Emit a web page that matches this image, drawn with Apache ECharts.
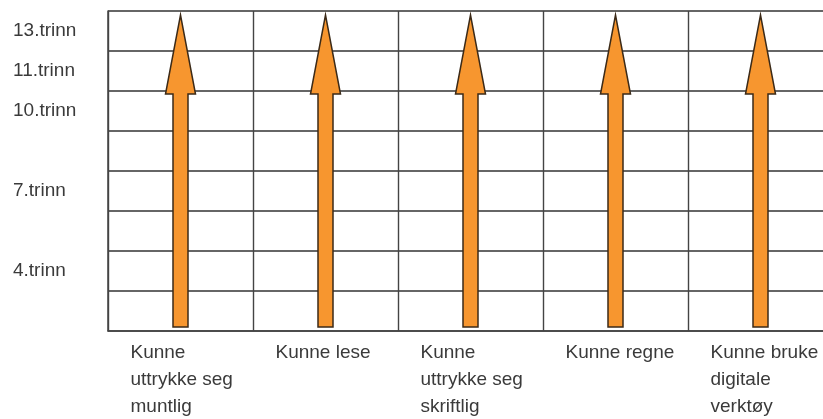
<!DOCTYPE html>
<html>
<head>
<meta charset="utf-8">
<script src="https://cdn.jsdelivr.net/npm/echarts@6/dist/echarts.min.js"></script>
<style>html,body{margin:0;padding:0;background:#fff}#c{width:823px;height:419px}</style>
</head>
<body>
<div id="c"></div>
<script>
const skills = ['Kunne\nuttrykke seg\nmuntlig', 'Kunne lese', 'Kunne\nuttrykke seg\nskriftlig', 'Kunne regne', 'Kunne bruke\ndigitale\nverktøy'];
const levels = ['', '4.trinn', '', '7.trinn', '', '10.trinn', '11.trinn', '13.trinn'];
const arrowFrom = [0.1, 0.1, 0.1, 0.1, 0.1];
const arrowTo = [7.9, 7.9, 7.9, 7.9, 7.9];

const chart = echarts.init(document.getElementById('c'), null, {renderer: 'canvas'});
const lineColor = '#444';
const textColor = '#3a3a3a';
const font = 'Liberation Sans, Arial, sans-serif';

chart.setOption({
  animation: false,
  grid: {left: 108, top: 11, width: 725, height: 320, outerBoundsMode: 'none', containLabel: false},
  xAxis: {
    type: 'category',
    data: skills,
    boundaryGap: true,
    axisLine: {show: true, lineStyle: {color: lineColor, width: 1.5}},
    axisTick: {show: false},
    splitLine: {show: true, interval: 0, lineStyle: {color: lineColor, width: 1.4}},
    axisLabel: {
      interval: 0,
      margin: 8,
      align: 'center',
      verticalAlign: 'top',
      formatter: v => v.split('\n').map(l => '{a|' + l + '}').join('\n'),
      rich: {a: {width: 100, align: 'left', fontSize: 19, lineHeight: 27, color: textColor, fontFamily: font}}
    }
  },
  yAxis: [{
    type: 'category',
    data: levels,
    boundaryGap: true,
    axisLine: {show: true, lineStyle: {color: lineColor, width: 1.5}},
    axisTick: {show: false},
    splitLine: {show: true, interval: 0, lineStyle: {color: '#666', width: 1.8}},
    axisLabel: {
      interval: 0,
      margin: 95,
      align: 'left',
      verticalAlign: 'middle',
      padding: [0, 0, 9, 0],
      fontSize: 19,
      color: textColor,
      fontFamily: font
    }
  }, {
    type: 'value',
    min: 0,
    max: 8,
    show: false
  }],
  series: [{
    type: 'custom',
    xAxisIndex: 0,
    yAxisIndex: 1,
    data: skills.map((s, i) => [i, arrowFrom[i], arrowTo[i]]),
    encode: {x: 0, y: [1, 2]},
    renderItem: function (params, api) {
      const base = api.coord([api.value(0), api.value(1)]);
      const tip = api.coord([api.value(0), api.value(2)]);
      const x = base[0];
      const sw = 7.5, hw = 15, hl = 79;
      const hb = tip[1] + hl;
      return {
        type: 'polygon',
        shape: {points: [
          [x - sw, base[1]], [x + sw, base[1]], [x + sw, hb], [x + hw, hb],
          [x, tip[1]], [x - hw, hb], [x - sw, hb]
        ]},
        style: {fill: '#F7962F', stroke: '#3b2a18', lineWidth: 1.5}
      };
    }
  }]
});
</script>
</body>
</html>
